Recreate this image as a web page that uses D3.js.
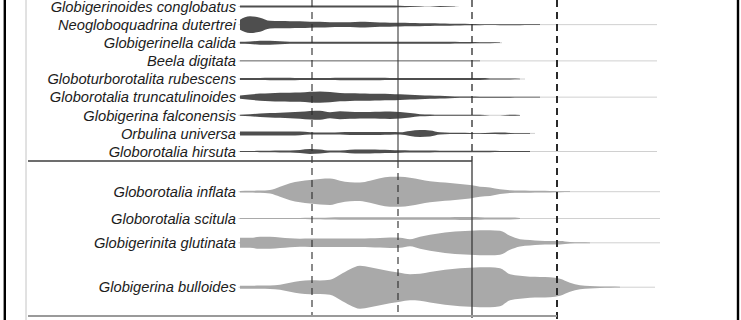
<!DOCTYPE html>
<html>
<head>
<meta charset="utf-8">
<script src="https://cdn.jsdelivr.net/npm/d3@7/dist/d3.min.js"></script>
<style>
html,body{margin:0;padding:0;background:#fff;}
svg{display:block;}
</style>
</head>
<body>
<svg id="chart" width="741" height="320"></svg>
<script>
// ---- DATA ----
const depths = [0,10,20,30,40,50,60,70,80,90,100,110,120,130,140,150,160,170,180,190,200,210,220,230,240,250,260,270,280,290,300,310,320,330,340,350,360,370,380,390,400,410,420];

const upperSpecies = ["Globigerinoides conglobatus","Neogloboquadrina dutertrei","Globigerinella calida","Beela digitata","Globoturborotalita rubescens","Globorotalia truncatulinoides","Globigerina falconensis","Orbulina universa","Globorotalia hirsuta"];
const lowerSpecies = ["Globorotalia inflata","Globorotalia scitula","Globigerinita glutinata","Globigerina bulloides"];

const conglobatus = [1,1,1,1,1,1,1,1,1,1,1,0.9,0.9,1,1,1,0.8,0.5,0.3,0,0.4,0.3,0];
const dutertrei = [5,8.3,7,3.8,3.6,3.5,3.3,3,2.8,2.5,2.3,2.4,2.8,2.6,2.2,2,1.8,1.6,1.5,1.3,1.2,1,0.9,0.7,0.5,0.4,0.5,0.5,0.5,0.4,0.3];
const calida = [1,1.2,2,2,1.6,1,0.9,0.9,0.9,0.9,0.9,0.9,0.9,0.9,0.9,0.9,0.9,0.9,0.9,0.9,0.9,0.9,0.8,0.7,0.5,0.4,0.3];
const digitata = [0.4,0.4,0.3,0.3,0.3,0.3,0.3,0.3,0.3,0.3,0.3,0.3,0.3,0.3,0.3,0.3,0.3,0.3,0.4,0.4,0.4,0.4,0.4,0.3,0.3];
const rubescens = [1,1,1,1.2,1.2,1.2,0.9,0.9,0.9,1,1.2,1.2,1.2,1.2,1.2,1,0.9,0.9,0.9,0.9,0.9,0.9,0.9,0.9,0.9,0.6,0.4,0.4,0.3];
const truncatulinoides = [1.7,2.6,3.6,4,4.3,4.5,4.6,5.3,5.7,5.2,4.2,3.8,3.6,3.5,3.4,3.2,2.8,2.4,2,1.7,1.3,1,0.7,0.6,0.5,0.5,0.5,0.5,0.4,0.4,0.3];
const falconensis = [0.5,1,1.8,2.3,2.6,3,3.4,4.3,4.5,3,4,3.6,3.2,3.3,3.5,3.7,3.2,2.2,1.1,0.7,0.5,0.5,0.4,0.4,0.4,0,0,0.5,0.3];
const universa = [2,2,2,2,2,2,1.8,1.2,1,1,1.2,1.5,1.5,1.5,1.5,1.4,1.2,2.5,3.5,3,1.2,0.7,0.6,0.5,0.4,0.7,0.8,0.5,0.3,0.3];
const hirsuta = [0.4,0.5,0.7,0.8,0.9,1,1.6,2.5,2,0.9,1,1.8,2,1.9,1.8,1.6,1.2,1.1,1,0.9,0.8,0.8,0.8,0.8,0.7,0.7,0.6,0.6,0.5,0.4];

const inflata = [0.8,0.9,1.1,1.7,5,8.5,10.5,11.8,12.8,13.2,11,9.5,9.2,11,13.5,15,15,14,12.2,10.5,9.5,8.8,7.8,6.7,5,4.3,2.4,1.4,1.1,1,0.9,0.7,0.5,0.4];
const scitula = [0.6,0.6,0.6,0.6,0.6,0.6,0.6,0.7,0.8,1.1,1.2,1.2,1.2,1.2,1.2,1.2,1.2,1.2,1.2,1.2,1.2,1.3,1.4,1.4,1.2,1,1,1,0.6];
const glutinata = [5,5,6,6,5.3,4.5,4,4.2,4.3,4.3,4.3,4.3,4.3,4.5,4.8,5.2,5,3.5,6,8,9.5,10.8,11.5,12,12.5,12.5,12,7,3.6,2.7,2,1.7,1.7,0.8,0.5,0.4];
const bulloides = [1.5,1.5,1.6,1.8,2.5,4.5,6.2,7,6.8,7.5,12.5,18,21.5,20,18,16,14.5,13,13.5,15.3,16.8,18,19,19.5,20,20,19,13,11.5,10.5,10.3,10,8.5,4.5,2,1.2,0.8,0.6,0.4];

const upperValues = [conglobatus,dutertrei,calida,digitata,rubescens,truncatulinoides,falconensis,universa,hirsuta];
const lowerValues = [inflata,scitula,glutinata,bulloides];
// depth at which each record's trace ends
const upperEnds = [215,417,262,417,285,417,280,295,417];
const lowerEnds = [420,420,420,415];
// zone boundaries (depth units)
const boundaries = [72,158,232,317];

// ---- CHART ----
const svg = d3.select("#chart");
const x = d3.scaleLinear().domain([0,420]).range([240,660]);
const w = d3.scaleLinear().domain([0,25]).range([0,25]);
const yUpper = d3.scalePoint().domain(upperSpecies).range([6.5,151.5]);

// stacked layout for lower group
const lowerY = {};
{
  let y = 191.7, pad = 10.4;
  lowerSpecies.forEach((s,i)=>{
    if(i>0){ y += w(d3.max(lowerValues[i-1])) + w(d3.max(lowerValues[i])) + pad; }
    lowerY[s] = y;
  });
}
const sepY = 161, botY = 316;

// frame
svg.append("line").attr("x1",4.8).attr("x2",4.8).attr("y1",0).attr("y2",320).attr("stroke","#000").attr("stroke-width",2.4);
svg.append("line").attr("x1",738).attr("x2",738).attr("y1",0).attr("y2",320).attr("stroke","#000").attr("stroke-width",2.4);
svg.append("line").attr("x1",26).attr("x2",26).attr("y1",0).attr("y2",320).attr("stroke","#c4c4c4").attr("stroke-width",1);

function drawGroup(names, vals, ends, yf, fill){
  names.forEach((s,i)=>{
    const cy = yf(s);
    svg.append("line").attr("x1",x(-1.5)).attr("x2",x(ends[i])).attr("y1",cy).attr("y2",cy)
      .attr("stroke","#d0d0d0").attr("stroke-width",1);
  });
  names.forEach((s,i)=>{
    const cy = yf(s);
    const pts = vals[i].map((v,j)=>({d:depths[j], v:v}));
    const area = d3.area().x(p=>x(p.d)).y0(p=>cy - w(p.v)).y1(p=>cy + w(p.v)).curve(d3.curveMonotoneX);
    svg.append("path").attr("d",area(pts)).attr("fill",fill);
    svg.append("text").attr("x",236).attr("y",cy).attr("dy","0.36em")
      .attr("text-anchor","end")
      .style("font-family","'Liberation Sans', Arial, sans-serif")
      .style("font-style","italic").style("font-size","14.7px").attr("fill","#1c1c1c")
      .text(s);
  });
}
drawGroup(upperSpecies, upperValues, upperEnds, s=>yUpper(s), "#4e4e4e");
drawGroup(lowerSpecies, lowerValues, lowerEnds, s=>lowerY[s], "#a9a9a9");

// zone lines
const dashStyle = (sel,wd)=>sel.attr("stroke","#2a2a2a").attr("stroke-width",wd).attr("stroke-dasharray","7,5");
dashStyle(svg.append("line").attr("x1",x(boundaries[0])).attr("x2",x(boundaries[0])).attr("y1",0).attr("y2",botY),1.1);
svg.append("line").attr("x1",x(boundaries[1])).attr("x2",x(boundaries[1])).attr("y1",0).attr("y2",sepY).attr("stroke","#3a3a3a").attr("stroke-width",1.1);
dashStyle(svg.append("line").attr("x1",x(boundaries[1])).attr("x2",x(boundaries[1])).attr("y1",sepY).attr("y2",botY),1.1);
dashStyle(svg.append("line").attr("x1",x(boundaries[2])).attr("x2",x(boundaries[2])).attr("y1",0).attr("y2",sepY),1.3);
svg.append("line").attr("x1",x(boundaries[2])).attr("x2",x(boundaries[2])).attr("y1",sepY).attr("y2",botY+2).attr("stroke","#3a3a3a").attr("stroke-width",1.3);
dashStyle(svg.append("line").attr("x1",x(boundaries[3])).attr("x2",x(boundaries[3])).attr("y1",0).attr("y2",320),2);

// separators
svg.append("line").attr("x1",28).attr("x2",x(boundaries[2])).attr("y1",sepY).attr("y2",sepY).attr("stroke","#3c3c3c").attr("stroke-width",1.6);
svg.append("line").attr("x1",28).attr("x2",x(boundaries[3])).attr("y1",botY).attr("y2",botY).attr("stroke","#9a9a9a").attr("stroke-width",2);
</script>
</body>
</html>
